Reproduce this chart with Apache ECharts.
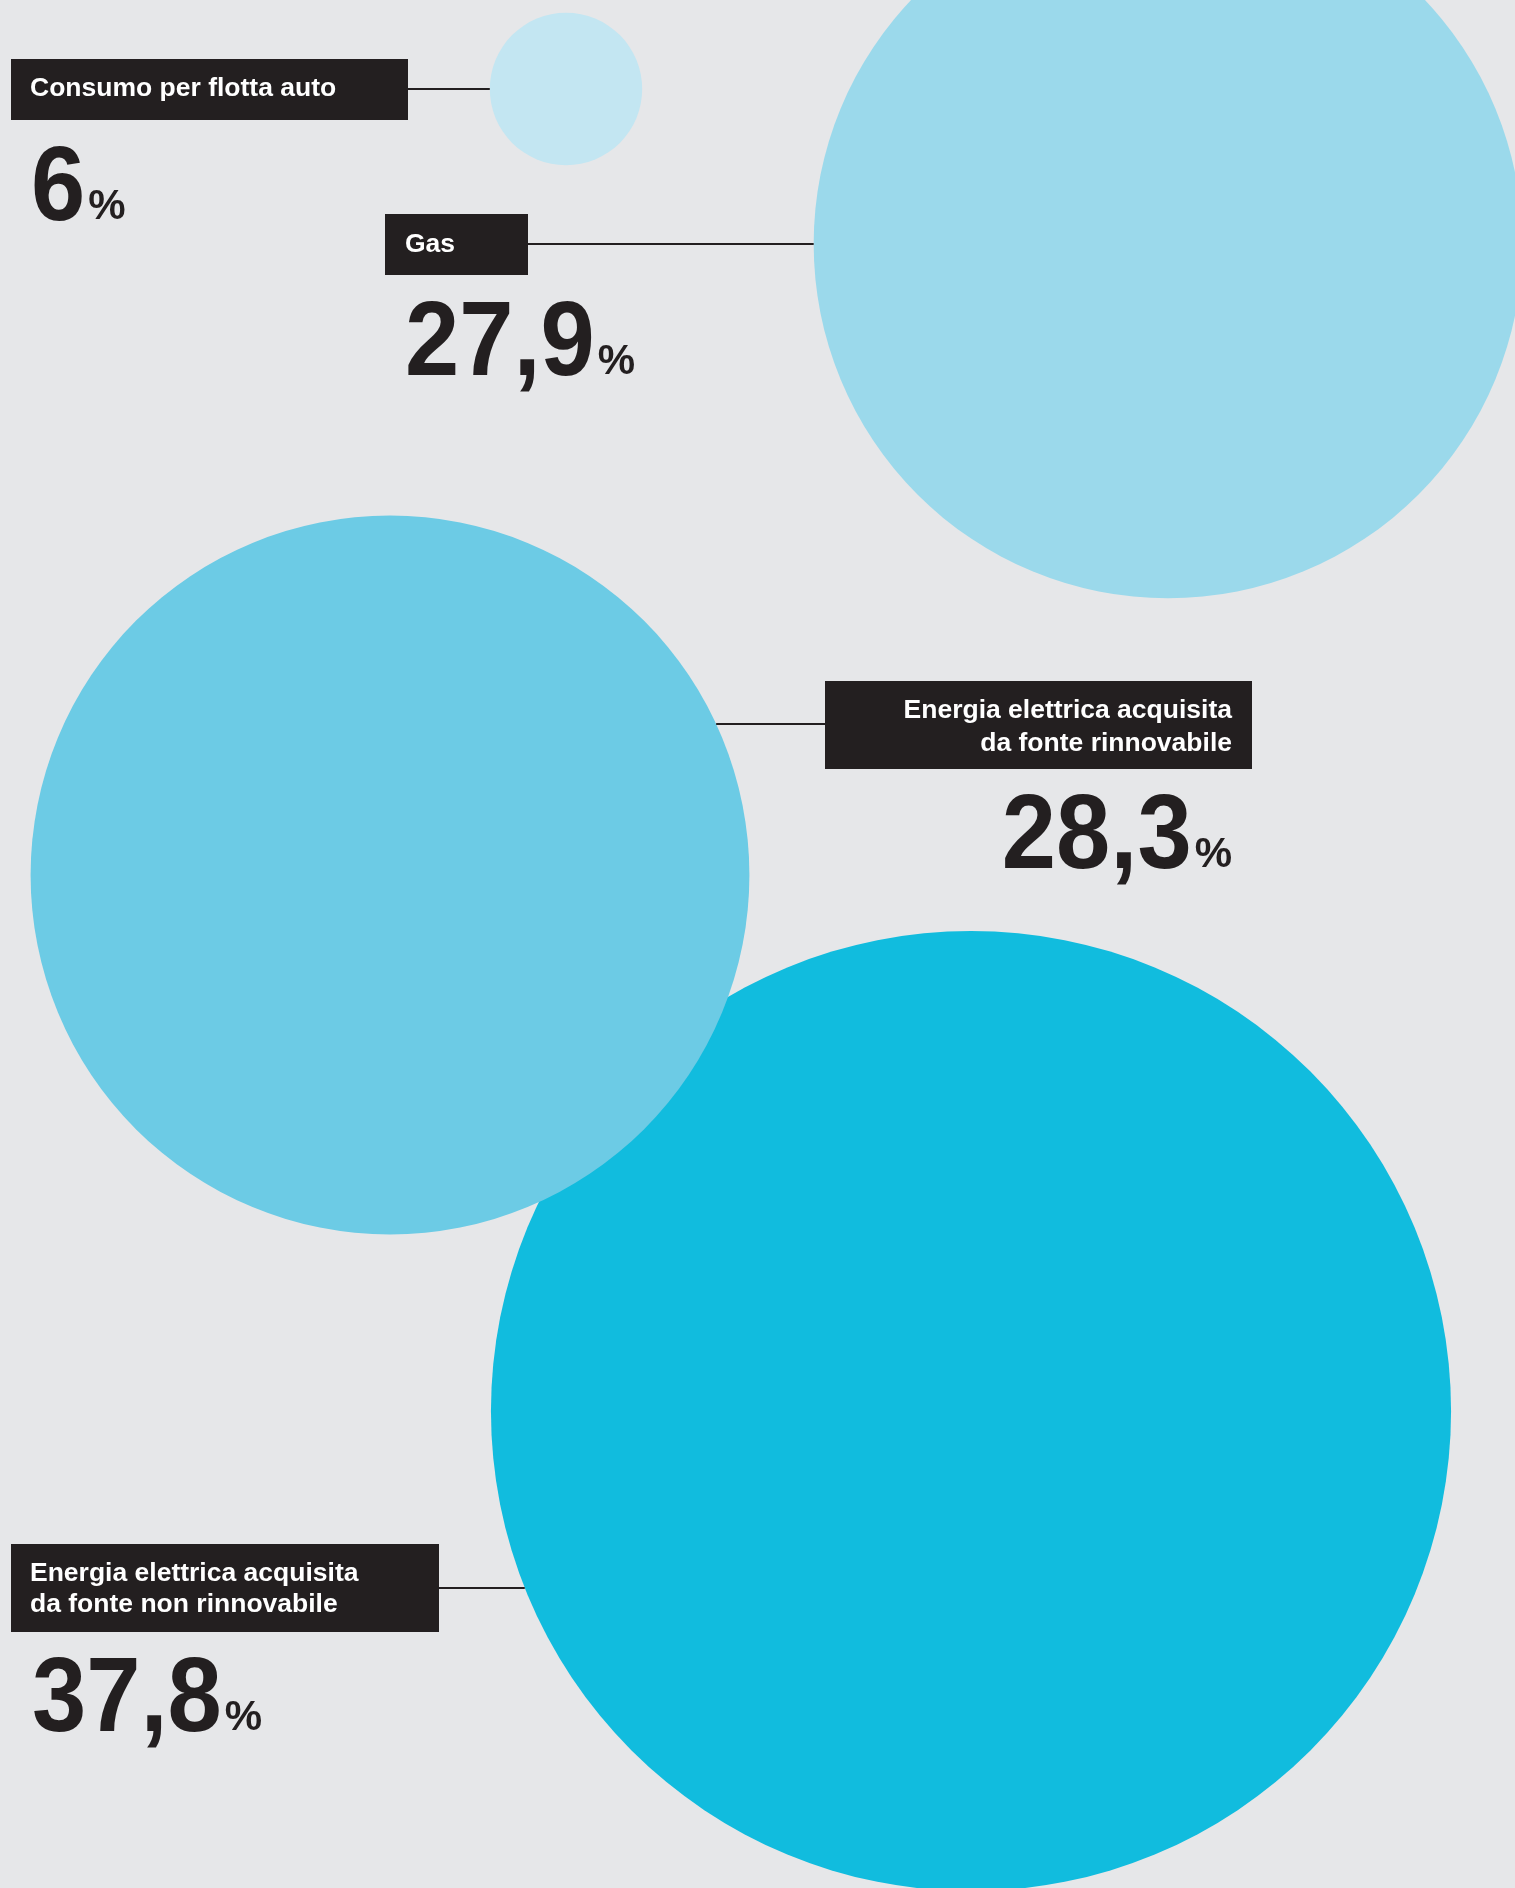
<!DOCTYPE html>
<html>
<head>
<meta charset="utf-8">
<script src="https://cdn.jsdelivr.net/npm/echarts@6/dist/echarts.min.js"></script>
<style>
  html, body { margin: 0; padding: 0; background: #e6e7e9; }
  #chart { width: 1515px; height: 1888px; }
</style>
</head>
<body>
<div id="chart"></div>
<script>
// Energy consumption breakdown (share of total, %)
const categories = [
  'Consumo per flotta auto',
  'Gas',
  'Energia elettrica acquisita\nda fonte rinnovabile',
  'Energia elettrica acquisita\nda fonte non rinnovabile'
];
const shares = [6, 27.9, 28.3, 37.8];
const unit = '%';

// ---- layout & styling ----
const PX_PER_POINT = 12.7;               // bubble radius per percentage point
const WIDTH = 1515, HEIGHT = 1888;
const centers = [[566, 89], [1168, 244], [390, 875], [971, 1411]];
const fills = ['#c3e6f2', '#9bd9eb', '#6ccbe5', '#11bcde'];
const drawOrder = [3, 2, 1, 0];          // later items sit on top
const boxes = [
  { x: 11,  y: 59,   w: 397, h: 61, align: 'left',  textX: 30,   baselines: [96] },
  { x: 385, y: 214,  w: 143, h: 61, align: 'left',  textX: 405,  baselines: [252] },
  { x: 825, y: 681,  w: 427, h: 88, align: 'right', textX: 1232, baselines: [718, 751] },
  { x: 11,  y: 1544, w: 428, h: 88, align: 'left',  textX: 30,   baselines: [1581, 1612] }
];
const leaderY = [89, 244, 724, 1588];
const valuePos = [
  { x: 31,   baseline: 222,  align: 'left' },
  { x: 405,  baseline: 377,  align: 'left' },
  { x: 1232, baseline: 870,  align: 'right' },
  { x: 32,   baseline: 1733, align: 'left' }
];
const INK = '#231f20';
const FAMILY = '"Liberation Sans", Arial, sans-serif';
const LABEL_SIZE = 26.5;
const NUM_SIZE = 106;
const PCT_SIZE = 42;
const NUM_SQUEEZE = 0.92;
// baseline offset below a 'middle'-aligned line, in em
const MID_LABEL = 0.29;
const MID_NUM = 0.29;
const MID_PCT = 0.3465;

const measureCtx = document.createElement('canvas').getContext('2d');
function textWidth(str, font) { measureCtx.font = font; return measureCtx.measureText(str).width; }
function formatShare(v) { return String(v).replace('.', ','); }

const chart = echarts.init(document.getElementById('chart'), null, { renderer: 'canvas' });

chart.setOption({
  backgroundColor: '#e6e7e9',
  animation: false,
  grid: { left: 0, right: 0, top: 0, bottom: 0 },
  xAxis: { type: 'value', min: 0, max: WIDTH, show: false },
  yAxis: { type: 'value', min: 0, max: HEIGHT, inverse: true, show: false },
  series: [{
    type: 'scatter',
    clip: false,
    silent: true,
    symbol: 'circle',
    symbolSize: (val) => val[2] * PX_PER_POINT * 2,
    itemStyle: { opacity: 1 },
    data: drawOrder.map(i => ({
      name: categories[i],
      value: [centers[i][0], centers[i][1], shares[i]],
      itemStyle: { color: fills[i] }
    }))
  }]
});

// Labels, leader lines and value callouts
const graphics = [];
shares.forEach((v, i) => {
  const c = chart.convertToPixel({ gridIndex: 0 }, centers[i]);
  const r = v * PX_PER_POINT;
  const b = boxes[i];
  const ly = chart.convertToPixel({ gridIndex: 0 }, [0, leaderY[i]])[1];
  const dx = Math.sqrt(Math.max(0, r * r - (ly - c[1]) * (ly - c[1])));

  // leader line between label box and bubble edge
  let x1, x2;
  if (c[0] > b.x + b.w) { x1 = b.x + b.w; x2 = c[0] - dx; }
  else { x1 = c[0] + dx; x2 = b.x; }
  graphics.push({
    type: 'line', silent: true, z: 10,
    shape: { x1: x1, y1: ly, x2: x2, y2: ly },
    style: { stroke: INK, lineWidth: 2.2 }
  });

  // label box
  graphics.push({
    type: 'rect', silent: true, z: 10,
    shape: { x: b.x, y: b.y, width: b.w, height: b.h },
    style: { fill: INK }
  });
  categories[i].split('\n').forEach((line, k) => {
    graphics.push({
      type: 'text', silent: true, z: 11,
      style: {
        text: line, x: b.textX, y: b.baselines[k] - MID_LABEL * LABEL_SIZE,
        font: 'bold ' + LABEL_SIZE + 'px ' + FAMILY,
        fill: '#ffffff', align: b.align, verticalAlign: 'middle'
      }
    });
  });

  // value callout
  const p = valuePos[i];
  const numStr = formatShare(v);
  const numFont = 'bold ' + NUM_SIZE + 'px ' + FAMILY;
  const pctFont = 'bold ' + PCT_SIZE + 'px ' + FAMILY;
  const numW = textWidth(numStr, numFont) * NUM_SQUEEZE;
  const pctW = textWidth(unit, pctFont);
  const gap = 3;
  let numX, pctX;
  if (p.align === 'left') { numX = p.x; pctX = p.x + numW + gap; }
  else { pctX = p.x - pctW; numX = pctX - gap - numW; }
  graphics.push({
    type: 'text', silent: true, z: 11,
    x: numX, y: p.baseline - MID_NUM * NUM_SIZE, scaleX: NUM_SQUEEZE,
    style: { text: numStr, x: 0, y: 0, font: numFont, fill: INK, align: 'left', verticalAlign: 'middle' }
  });
  graphics.push({
    type: 'text', silent: true, z: 11,
    style: { text: unit, x: pctX, y: p.baseline - MID_PCT * PCT_SIZE, font: pctFont, fill: INK, align: 'left', verticalAlign: 'middle' }
  });
});

chart.setOption({ graphic: graphics });
</script>
</body>
</html>
